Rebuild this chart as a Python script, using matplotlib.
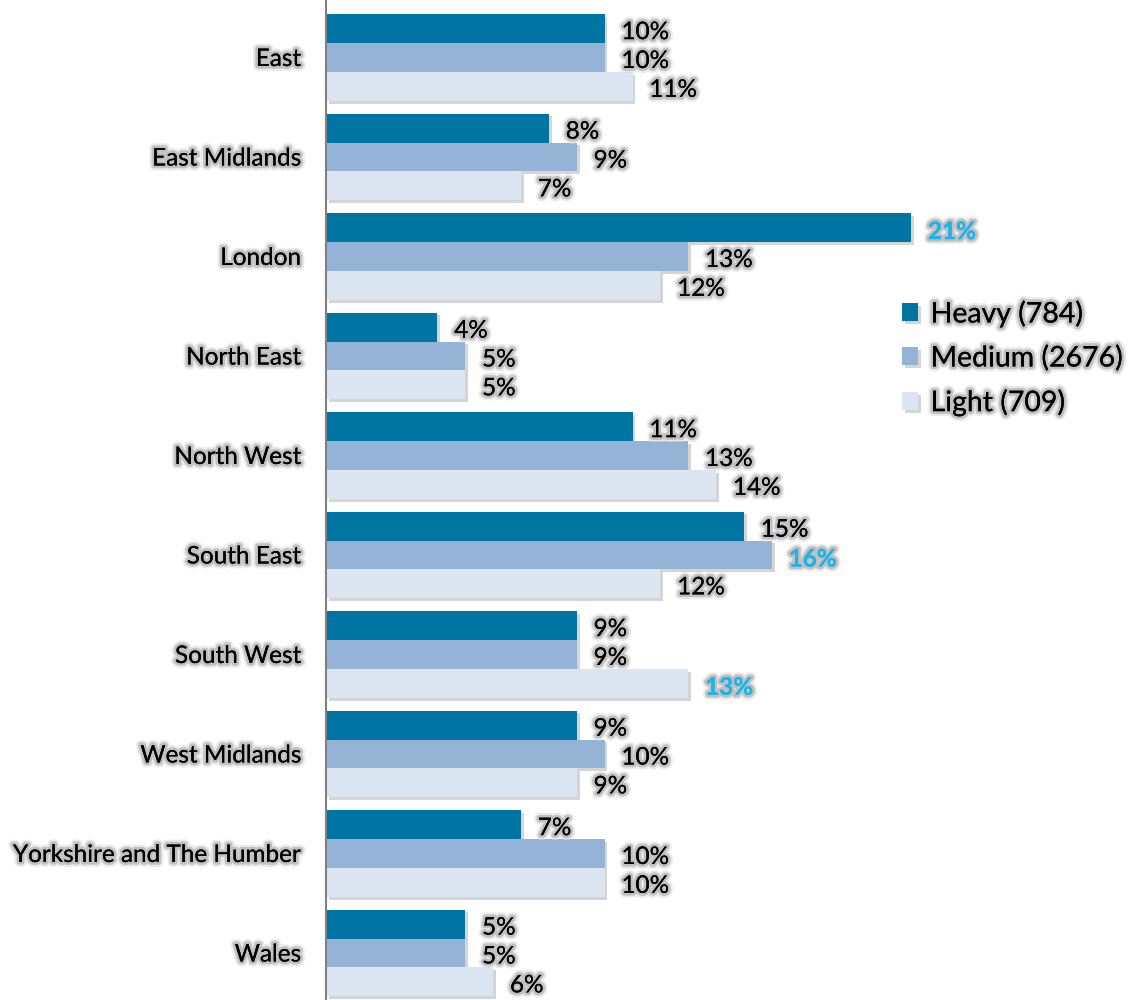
import matplotlib.pyplot as plt
import matplotlib.patheffects as pe
import numpy as np

# Regions and share of each user group (%)
regions = ['East', 'East Midlands', 'London', 'North East', 'North West',
           'South East', 'South West', 'West Midlands',
           'Yorkshire and The Humber', 'Wales']
heavy = [10, 8, 21, 4, 11, 15, 9, 9, 7, 5]
medium = [10, 9, 13, 5, 13, 16, 9, 10, 10, 5]
light = [11, 7, 12, 5, 14, 12, 13, 9, 10, 6]
series_names = ['Heavy (784)', 'Medium (2676)', 'Light (709)']

# highest value per series gets a highlighted label
highlight = {0: 2, 1: 5, 2: 6}

colors = ['#0075A3', '#95B3D7', '#DCE6F2']
hl_color = '#1CB4EC'

plt.rcParams['font.family'] = ['Lato', 'DejaVu Sans']

glow = [pe.withStroke(linewidth=7, foreground='#dcdcdc', alpha=0.6),
        pe.withStroke(linewidth=4, foreground='#b0b0b0', alpha=0.7),
        pe.Normal()]
bar_shadow = [pe.SimplePatchShadow(offset=(2, -2), shadow_rgbFace='#888888', alpha=0.35),
              pe.Normal()]

fig = plt.figure(figsize=(11.38, 10.0), dpi=100)
ax = fig.add_axes([326 / 1138, 0, 1 - 326 / 1138, 1])

y = np.arange(len(regions))
h = 0.29
all_vals = [heavy, medium, light]
for k, vals in enumerate(all_vals):
    pos = y + (k - 1) * h
    bars = ax.barh(pos, vals, height=h, color=colors[k], label=series_names[k], zorder=2)
    for b in bars:
        b.set_path_effects(bar_shadow)
    for i, v in enumerate(vals):
        is_hl = highlight[k] == i
        ax.text(v + 0.6, pos[i] + 0.04, f'{v}%', va='center', ha='left',
                fontsize=17.5, color=hl_color if is_hl else 'black',
                fontweight='bold' if is_hl else 'normal',
                path_effects=glow, zorder=3)

ax.set_xlim(0, (1138 - 326) / 27.87)
ax.set_ylim((1000 - 57.5) / 99.5, -57.5 / 99.5)
ax.set_xticks([])
ax.set_yticks(y)
ax.set_yticklabels(regions, fontsize=17.5)
for lbl in ax.get_yticklabels():
    lbl.set_path_effects(glow)
ax.tick_params(axis='y', length=0, pad=18)

for s in ['top', 'right', 'bottom']:
    ax.spines[s].set_visible(False)
ax.spines['left'].set_color('#808080')
ax.spines['left'].set_linewidth(1.5)

leg = ax.legend(loc='center left', bbox_to_anchor=(0.678, 0.642), frameon=False,
                fontsize=20.5, handlelength=0.55, handleheight=0.6, handletextpad=0.45,
                labelspacing=0.6)
for t in leg.get_texts():
    t.set_path_effects(glow)

fig.savefig('out.png', dpi=100)
